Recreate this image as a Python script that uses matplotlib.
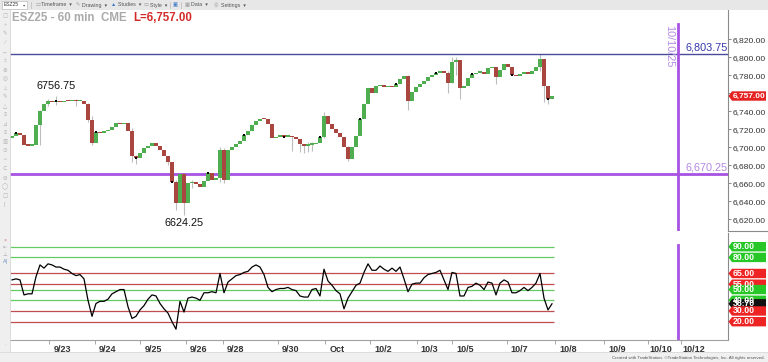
import numpy as np
import matplotlib
matplotlib.use("Agg")
from matplotlib import pyplot as plt
from matplotlib.patches import Rectangle, Polygon
from matplotlib.lines import Line2D
from matplotlib.transforms import blended_transform_factory

plt.rcParams['font.family'] = ['Liberation Sans', 'DejaVu Sans']

# ---- data (60 min bars, one entry ~ every 2 bars) ----
first_open = 6710
closes = [
    6713, 6716, 6714, 6703, 6702, 6703, 6725, 6740, 6748, 6751,
    6750, 6751, 6750, 6752, 6751, 6752, 6751, 6752, 6748, 6730,
    6705, 6717, 6716, 6718, 6719, 6723, 6727, 6726, 6727, 6718,
    6690, 6688, 6694, 6699, 6702, 6705, 6702, 6697, 6690, 6684,
    6662, 6638, 6670, 6638, 6660, 6662, 6659, 6656, 6663, 6671,
    6664, 6666, 6697, 6664, 6697, 6700, 6704, 6707, 6714, 6718,
    6725, 6729, 6732, 6731, 6726, 6710, 6712, 6713, 6712, 6713,
    6711, 6709, 6704, 6702, 6703, 6704, 6705, 6712, 6735, 6726,
    6720, 6716, 6712, 6700, 6687, 6700, 6713, 6732, 6748, 6766,
    6760, 6768, 6769, 6767, 6768, 6767, 6770, 6776, 6779, 6752,
    6761, 6767, 6770, 6774, 6778, 6780, 6783, 6785, 6783, 6772,
    6795, 6797, 6766, 6768, 6777, 6781, 6783, 6784, 6781, 6788,
    6789, 6778, 6786, 6793, 6789, 6780, 6779, 6781, 6784, 6782,
    6785, 6789, 6798, 6768, 6754, 6757,
]
# bar index -> (low, high) for the wicks that stick out
wicks = {
    7: (6703, 6742), 9: (6746, 6754), 11: (6747, 6756.75), 16: (6746, 6754),
    19: (6728, 6749), 20: (6703, 6735), 30: (6684, 6722), 31: (6682, 6692),
    39: (6680, 6690), 41: (6630, 6664), 43: (6624.25, 6671), 45: (6655, 6664),
    52: (6662, 6700), 53: (6660, 6699), 70: (6696, 6713), 72: (6695, 6706),
    73: (6694, 6704), 74: (6695, 6706), 75: (6696, 6706), 78: (6710, 6739),
    84: (6685, 6702), 99: (6741, 6780), 109: (6760, 6785), 110: (6771, 6800),
    111: (6780, 6800), 112: (6754, 6797), 121: (6770, 6789), 132: (6785, 6803.75),
    133: (6750, 6798), 134: (6748, 6768),
}
session_bars = [1, 11, 21, 31, 40, 49, 58, 68, 77, 87, 96, 106, 115, 125, 134]

rsi = [
    59, 60, 59, 45, 46, 46, 62, 73, 70, 74,
    73, 71, 71, 69, 68, 65, 63, 64, 60, 40,
    25, 37, 39, 39, 41, 46, 48, 50, 50, 34,
    23, 25, 31, 35, 41, 45, 44, 37, 32, 28,
    20, 13, 39, 29, 42, 43, 42, 40, 47, 47,
    48, 47, 65, 47, 57, 60, 63, 64, 66, 67,
    71, 73, 71, 64, 52, 48, 50, 51, 51, 52,
    50, 49, 44, 43, 43, 50, 51, 44, 69, 58,
    54, 49, 46, 32, 42, 48, 54, 56, 66, 74,
    68, 68, 72, 69, 67, 70, 67, 71, 60, 48,
    55, 56, 56, 61, 64, 65, 66, 68, 59, 50,
    66, 65, 44, 44, 52, 53, 56, 54, 50, 57,
    56, 45, 56, 59, 57, 47, 47, 49, 52, 49,
    52, 56, 65, 42, 31, 36.7,
]
rsi_levels = [90, 80, 65, 55, 50, 40, 30, 20]
level_kind = ['up', 'up', 'dn', 'dn', 'up', 'up', 'dn', 'dn']

tick_labels = ['9/23', '9/24', '9/25', '9/26', '9/28', '9/30', 'Oct', '10/2',
               '10/3', '10/5', '10/7', '10/8', '10/9', '10/10', '10/12']
tick_pos = [12.5, 23.9, 35.25, 46.75, 55.9, 69.75, 81.4, 92.75,
            104.4, 113.25, 126.9, 139, 151.25, 162.25, 170.5]

price_ticks = list(range(6620, 6821, 20))
ath_level = 6803.75
support_level = 6670.25
date_line_x = 166.4
last_price = 6757.00
last_rsi = 36.70
swing_high = (11, 6756.75)
swing_low = (43, 6624.25)

GREEN = '#4fae4f'
RED = '#a8463f'
PURPLE = '#a653e2'

W, H = 768, 362
fig = plt.figure(figsize=(W / 100, H / 100), dpi=100)


def box(x0, y0, x1, y1):
    return [x0 / W, 1 - y1 / H, (x1 - x0) / W, (y1 - y0) / H]


def fx(px):
    return px / W


def fy(py):
    return 1 - py / H


# ---- frame: toolbar, left strip, bottom strip ----
fig.add_artist(Rectangle((0, fy(10)), 1, 10 / H, transform=fig.transFigure,
                         facecolor='#e7e7e7', edgecolor='none'))
fig.add_artist(Rectangle((fx(2), fy(8.5)), 25 / W, 7 / H, transform=fig.transFigure,
                         facecolor='white', edgecolor='#b0b0b0', lw=0.4))
fig.text(fx(4), fy(5), 'ESZ25', fontsize=3.6, color='#333', va='center')
fig.text(fx(23), fy(5), '▾', fontsize=3.2, color='#666', va='center')
toolbar = [(36, '▭', '#999'), (41, 'Timeframe  ▾', '#555'), (76, '✎', '#999'),
           (82, 'Drawing  ▾', '#555'), (111, '▲', '#3a78c8'), (118, 'Studies  ▾', '#555'),
           (144, '▭', '#999'), (150, 'Style  ▾', '#555'), (173, '▣', '#3a78c8'),
           (185, '▦', '#999'), (191, 'Data  ▾', '#555'), (214, '◎', '#999'),
           (221, 'Settings  ▾', '#555')]
for px, t, c in toolbar:
    fig.text(fx(px), fy(5), t, fontsize=3.8, color=c, va='center')
for px in [31, 170, 181]:
    fig.add_artist(Line2D([fx(px)] * 2, [fy(2), fy(8)], transform=fig.transFigure,
                          color='#b8b8b8', lw=0.5))

fig.add_artist(Rectangle((0, fy(352)), fx(10), (342) / H, transform=fig.transFigure,
                         facecolor='#efefef', edgecolor='none'))
fig.add_artist(Line2D([fx(10)] * 2, [fy(10), fy(352)], transform=fig.transFigure,
                      color='#d4d4d4', lw=0.6))
icons = ['▢', '+', '✎', '⁄', '↔', '±', '⊕', '◎', '⌂', '✎', '△', '≡', '⊿', '≡',
         '▥', '⊙', '∼', '⊂', '⊖', '◯', '▢', 'Ī']
for k, g in enumerate(icons):
    fig.text(fx(5), fy(16 + 9 * k), g, fontsize=4, color='#b4b4b4', ha='center', va='center')
for py, g, c in [(240, '×', '#d07070'), (247, '⇤', '#aaa'), (254, '⊥', '#aaa'),
                 (262, 'A|', '#6f8fc0'), (345, '·', '#aaa')]:
    fig.text(fx(5), fy(py), g, fontsize=3.8, color=c, ha='center', va='center')

fig.add_artist(Rectangle((0, 0), 1, 10 / H, transform=fig.transFigure,
                         facecolor='#f0f0f0', edgecolor='none'))
fig.add_artist(Line2D([0, 1], [fy(352)] * 2, transform=fig.transFigure,
                      color='#d6d6d6', lw=0.5))
fig.text(fx(765), fy(357.5), 'Created with TradeStation. ©TradeStation Technologies, Inc. '
         'All rights reserved.', fontsize=3.2, color='#555', ha='right', va='center')

# ---- price panel ----
ax = fig.add_axes(box(10, 10, 728, 231))
ax.set_facecolor('white')
ax.set_xlim(-0.5, 179)
ax.set_ylim(6607, 6852.6)

c = np.array(closes, dtype=float)
o = np.array([first_open] + closes[:-1], dtype=float)
xs = np.arange(len(c))
up = c >= o

for i, (lo, hi) in wicks.items():
    ax.vlines(i, lo, hi, color='#bdbdbd', lw=0.8, zorder=1)
ax.bar(xs, np.maximum(np.abs(c - o), 1.3), bottom=np.minimum(o, c), width=0.8,
       color=np.where(up, GREEN, RED), linewidth=0, zorder=2)
ax.scatter(session_bars, c[session_bars], marker='s', s=4, color='black', zorder=3,
           linewidths=0)

ax.axhline(ath_level, color='#4b4b9e', lw=1, zorder=1)
ax.axhline(support_level, color=PURPLE, lw=2, zorder=1)
ax.axvline(date_line_x, ymin=0, ymax=0.937, color=PURPLE, lw=2, zorder=1)

ax.text(168.25, ath_level + 1.5, f'{ath_level:,.2f}', color='#3838a8', fontsize=7.8,
        ha='left', va='bottom')
ax.text(168.25, support_level + 2, f'{support_level:,.2f}', color='#b488e2', fontsize=7.8,
        ha='left', va='bottom')
ax.text(164.25, 6812.6, '10/10/25', color='#b58ae6', fontsize=7.8, rotation=270,
        ha='center', va='center')
ax.text(swing_high[0], swing_high[1] + 11, f'{swing_high[1]:.2f}', fontsize=7.8,
        ha='center', va='center', color='#111')
ax.text(swing_low[0], swing_low[1] - 8, f'{swing_low[1]:.2f}', fontsize=7.8,
        ha='center', va='center', color='#111')

fig.text(fx(12), fy(18), 'ESZ25 - 60 min  CME', color='#a9a9a9', fontsize=8.3,
         fontweight='bold', va='center')
fig.text(fx(133), fy(18), f'L={last_price:,.2f}', color='#d42a2a', fontsize=8.3,
         fontweight='bold', va='center')

ax.yaxis.tick_right()
ax.set_yticks(price_ticks)
ax.set_yticklabels([f'{v:,.2f}' for v in price_ticks])
ax.tick_params(axis='y', length=2.5, width=0.6, color='#777', labelsize=6.1, pad=1,
               labelcolor='#333')
ax.tick_params(axis='x', bottom=False, labelbottom=False)
for s in ['left', 'top', 'bottom']:
    ax.spines[s].set_visible(False)
ax.spines['right'].set_color('#8a8a8a')
ax.spines['right'].set_linewidth(0.8)
fig.add_artist(Line2D([fx(728), 1], [fy(231)] * 2, transform=fig.transFigure,
                      color='#8a8a8a', lw=0.8))


def badge(a, y, text, fc, size=6.3):
    tr = blended_transform_factory(a.transAxes, a.transData)
    ylo, yhi = a.get_ylim()
    dpp = (yhi - ylo) / a.bbox.height
    w = a.bbox.width
    hh = 4.7 * dpp
    x0, xb, x1 = 1 + 0.5 / w, 1 + 4 / w, 1 + 38 / w
    a.add_patch(Polygon([(x0, y), (xb, y + hh), (x1, y + hh), (x1, y - hh), (xb, y - hh)],
                        closed=True, transform=tr, facecolor=fc, edgecolor='none',
                        clip_on=False, zorder=5))
    a.text(1 + 4.5 / w, y, text, transform=tr, color='white', fontsize=size,
           fontweight='bold', ha='left', va='center', clip_on=False, zorder=6)


badge(ax, last_price, f'{last_price:,.2f}', '#e52222', size=6.0)

# ---- oscillator panel ----
axr = fig.add_axes(box(10, 233, 728, 340))
axr.set_facecolor('white')
axr.set_xlim(-0.5, 179)
axr.set_ylim(2.9, 102.8)
lvl_color = {'up': '#62cc62', 'dn': '#bf4e4e'}
for lv, k in zip(rsi_levels, level_kind):
    axr.hlines(lv, -0.5, len(rsi) - 0.5, color=lvl_color[k], lw=0.9, zorder=1)
axr.plot(xs, rsi, color='black', lw=0.9, zorder=3)
axr.axvline(date_line_x, ymin=0, ymax=0.888, color=PURPLE, lw=2, zorder=1)

axr.set_xticks(tick_pos)
axr.set_xticklabels(tick_labels)
axr.set_xticks([p - 3.25 for p in tick_pos], minor=True)
axr.tick_params(axis='x', which='major', length=0, pad=3.5, labelsize=6.5,
                labelcolor='#333')
axr.tick_params(axis='x', which='minor', length=3, width=0.6, color='#999')
for lbl in axr.get_xticklabels():
    lbl.set_fontweight('bold')
axr.tick_params(axis='y', left=False, right=False, labelleft=False)
axr.spines['top'].set_visible(False)
axr.spines['left'].set_visible(False)
axr.spines['right'].set_color('#8a8a8a')
axr.spines['right'].set_linewidth(0.8)
axr.spines['bottom'].set_color('#a0a0a0')
axr.spines['bottom'].set_linewidth(0.8)

badge_fc = {'up': '#27c727', 'dn': '#ee2323'}
for lv, k in zip(rsi_levels, level_kind):
    if lv >= 40:
        badge(axr, lv, f'{lv:.2f}', badge_fc[k])
badge(axr, last_rsi, f'{last_rsi:.2f}', '#111111')
for lv, k in zip(rsi_levels, level_kind):
    if lv < 40:
        badge(axr, lv, f'{lv:.2f}', badge_fc[k])

fig.savefig('out.png', dpi=100)
